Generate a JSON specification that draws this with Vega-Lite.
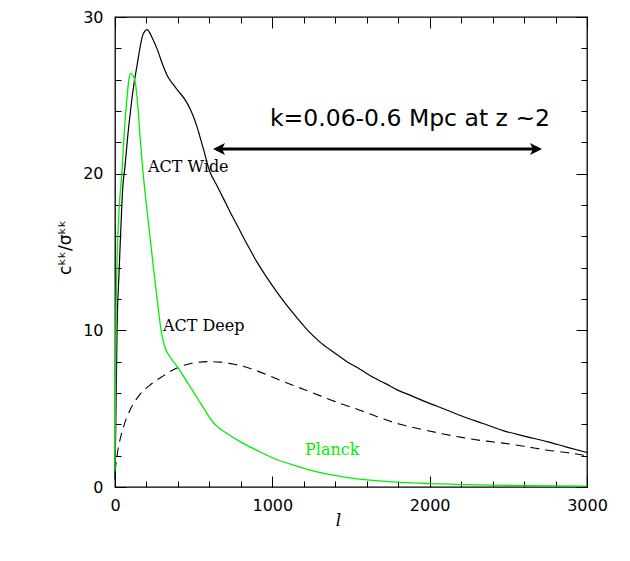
{
  "$schema": "https://vega.github.io/schema/vega-lite/v6.json",
  "width": 472,
  "height": 470,
  "autosize": "none",
  "padding": {"left": 115, "top": 17, "right": 43, "bottom": 74},
  "background": "white",
  "config": {
    "view": {"stroke": "black", "strokeWidth": 1.3},
    "axis": {
      "labelFont": "DejaVu Sans",
      "labelFontSize": 16,
      "labelColor": "black",
      "tickColor": "black",
      "tickWidth": 1,
      "grid": false,
      "domain": false,
      "labelFlush": false,
      "labelOverlap": false,
      "titleColor": "black",
      "titleFontWeight": "normal"
    }
  },
  "datasets": {
    "wide": [
      {"l": 0, "v": 0.5}, {"l": 5, "v": 4}, {"l": 13, "v": 10}, {"l": 25, "v": 13.5}, {"l": 35, "v": 16},
      {"l": 50, "v": 19.2}, {"l": 64, "v": 20.5}, {"l": 80, "v": 22.3}, {"l": 95, "v": 23.7}, {"l": 120, "v": 25.7},
      {"l": 140, "v": 26.9}, {"l": 160, "v": 28.1}, {"l": 175, "v": 28.8}, {"l": 190, "v": 29.1}, {"l": 205, "v": 29.2},
      {"l": 220, "v": 29.0}, {"l": 240, "v": 28.6}, {"l": 270, "v": 27.9}, {"l": 305, "v": 26.9}, {"l": 335, "v": 26.2},
      {"l": 370, "v": 25.7}, {"l": 400, "v": 25.3}, {"l": 450, "v": 24.65}, {"l": 477, "v": 24.15}, {"l": 500, "v": 23.6},
      {"l": 521, "v": 23.0}, {"l": 540, "v": 22.35}, {"l": 560, "v": 21.65}, {"l": 600, "v": 20.2}, {"l": 650, "v": 19.2},
      {"l": 700, "v": 18.2}, {"l": 750, "v": 17.2}, {"l": 800, "v": 16.25}, {"l": 850, "v": 15.3}, {"l": 900, "v": 14.4},
      {"l": 950, "v": 13.6}, {"l": 1000, "v": 12.85}, {"l": 1080, "v": 11.75}, {"l": 1157, "v": 10.8}, {"l": 1230, "v": 9.95},
      {"l": 1303, "v": 9.25}, {"l": 1390, "v": 8.6}, {"l": 1475, "v": 8.0}, {"l": 1560, "v": 7.5}, {"l": 1640, "v": 7.0},
      {"l": 1720, "v": 6.6}, {"l": 1793, "v": 6.2}, {"l": 1890, "v": 5.8}, {"l": 1983, "v": 5.4}, {"l": 2100, "v": 4.95},
      {"l": 2212, "v": 4.5}, {"l": 2340, "v": 4.05}, {"l": 2467, "v": 3.6}, {"l": 2600, "v": 3.25}, {"l": 2746, "v": 2.9},
      {"l": 2870, "v": 2.55}, {"l": 3000, "v": 2.2}
    ],
    "deep": [
      {"l": 0, "v": 1.0}, {"l": 10, "v": 1.8}, {"l": 25, "v": 2.7}, {"l": 50, "v": 3.7}, {"l": 95, "v": 4.9},
      {"l": 150, "v": 5.8}, {"l": 222, "v": 6.5}, {"l": 300, "v": 7.05}, {"l": 394, "v": 7.6}, {"l": 490, "v": 7.9},
      {"l": 585, "v": 8.0}, {"l": 670, "v": 7.97}, {"l": 750, "v": 7.85}, {"l": 880, "v": 7.5}, {"l": 1004, "v": 7.0},
      {"l": 1130, "v": 6.5}, {"l": 1259, "v": 6.0}, {"l": 1400, "v": 5.45}, {"l": 1557, "v": 4.9}, {"l": 1690, "v": 4.4},
      {"l": 1812, "v": 4.0}, {"l": 1939, "v": 3.7}, {"l": 2080, "v": 3.4}, {"l": 2212, "v": 3.15}, {"l": 2340, "v": 2.95},
      {"l": 2467, "v": 2.8}, {"l": 2600, "v": 2.6}, {"l": 2750, "v": 2.35}, {"l": 2870, "v": 2.2}, {"l": 3000, "v": 2.0}
    ],
    "planck": [
      {"l": 0, "v": 1.0}, {"l": 3, "v": 6}, {"l": 6, "v": 10.5}, {"l": 12, "v": 14}, {"l": 25, "v": 17.5},
      {"l": 44, "v": 20.1}, {"l": 60, "v": 22.8}, {"l": 76, "v": 24.8}, {"l": 88, "v": 26}, {"l": 100, "v": 26.4},
      {"l": 112, "v": 26.3}, {"l": 127, "v": 25.9}, {"l": 137, "v": 25.2}, {"l": 146, "v": 24.2}, {"l": 158, "v": 22.5},
      {"l": 170, "v": 21}, {"l": 178, "v": 20.1}, {"l": 200, "v": 18}, {"l": 222, "v": 16}, {"l": 250, "v": 13.5},
      {"l": 270, "v": 11.8}, {"l": 286, "v": 10.5}, {"l": 300, "v": 9.6}, {"l": 318, "v": 8.9}, {"l": 350, "v": 8.3},
      {"l": 394, "v": 7.7}, {"l": 440, "v": 7.0}, {"l": 477, "v": 6.4}, {"l": 510, "v": 5.9}, {"l": 540, "v": 5.4},
      {"l": 575, "v": 4.85}, {"l": 600, "v": 4.45}, {"l": 625, "v": 4.1}, {"l": 655, "v": 3.82}, {"l": 700, "v": 3.5},
      {"l": 795, "v": 2.9}, {"l": 900, "v": 2.35}, {"l": 1004, "v": 1.85}, {"l": 1150, "v": 1.35}, {"l": 1284, "v": 0.96},
      {"l": 1450, "v": 0.65}, {"l": 1602, "v": 0.45}, {"l": 1812, "v": 0.3}, {"l": 2000, "v": 0.22}, {"l": 2300, "v": 0.14},
      {"l": 2600, "v": 0.09}, {"l": 3000, "v": 0.05}
    ],
    "labels": [
      {"l": 210, "v": 20.4, "text": "ACT Wide", "c": "black"},
      {"l": 305, "v": 10.3, "text": "ACT Deep", "c": "black"},
      {"l": 1208, "v": 2.36, "text": "Planck", "c": "green"}
    ],
    "note": [{"l": 985, "v": 23.04, "text": "k=0.06-0.6 Mpc at z ~2"}],
    "arrowline": [{"l": 645, "l2": 2692, "v": 21.57}],
    "heads": [{"l": 623, "v": 21.57, "dir": "left"}, {"l": 2714, "v": 21.57, "dir": "right"}]
  },
  "resolve": {"axis": {"x": "independent", "y": "independent"}},
  "layer": [
    {
      "data": {"name": "wide"},
      "mark": {"type": "line", "color": "black", "strokeWidth": 1.2, "interpolate": "monotone"},
      "encoding": {
        "x": {
          "field": "l", "type": "quantitative",
          "scale": {"domain": [0, 3000], "nice": false, "zero": false},
          "axis": {
            "orient": "bottom",
            "values": [0, 200, 400, 600, 800, 1000, 1200, 1400, 1600, 1800, 2000, 2200, 2400, 2600, 2800, 3000],
            "format": "d",
            "labelExpr": "datum.value % 1000 === 0 ? datum.label : ''",
            "tickSize": {"condition": {"test": "datum.value % 1000 === 0", "value": -11}, "value": -6},
            "labelPadding": 21,
            "title": "l",
            "titleFont": "DejaVu Serif",
            "titleFontStyle": "italic",
            "titleFontSize": 17,
            "titleX": 223,
            "titleY": 33,
            "titleBaseline": "middle"
          }
        },
        "y": {
          "field": "v", "type": "quantitative",
          "scale": {"domain": [0, 30], "nice": false, "zero": false},
          "axis": {
            "orient": "left",
            "values": [0, 2, 4, 6, 8, 10, 12, 14, 16, 18, 20, 22, 24, 26, 28, 30],
            "format": "d",
            "labelExpr": "datum.value % 10 === 0 ? datum.label : ''",
            "tickSize": {"condition": {"test": "datum.value % 10 === 0", "value": -11}, "value": -6},
            "labelPadding": 23,
            "title": "cᵏᵏ/σᵏᵏ",
            "titleFont": "DejaVu Sans",
            "titleFontSize": 17,
            "titleAngle": -90,
            "titleX": -50,
            "titleY": 230,
            "titleAlign": "center",
            "titleBaseline": "middle"
          }
        }
      }
    },
    {
      "data": {"name": "deep"},
      "mark": {"type": "line", "color": "black", "strokeWidth": 1.1, "strokeDash": [9, 6], "interpolate": "monotone"},
      "encoding": {
        "x": {
          "field": "l", "type": "quantitative",
          "scale": {"domain": [0, 3000], "nice": false, "zero": false},
          "axis": {
            "orient": "top",
            "values": [0, 200, 400, 600, 800, 1000, 1200, 1400, 1600, 1800, 2000, 2200, 2400, 2600, 2800, 3000],
            "labels": false,
            "title": null,
            "tickSize": {"condition": {"test": "datum.value % 1000 === 0", "value": -11}, "value": -6}
          }
        },
        "y": {
          "field": "v", "type": "quantitative",
          "scale": {"domain": [0, 30], "nice": false, "zero": false},
          "axis": {
            "orient": "right",
            "values": [0, 2, 4, 6, 8, 10, 12, 14, 16, 18, 20, 22, 24, 26, 28, 30],
            "labels": false,
            "title": null,
            "tickSize": {"condition": {"test": "datum.value % 10 === 0", "value": -11}, "value": -6}
          }
        }
      }
    },
    {
      "data": {"name": "planck"},
      "mark": {"type": "line", "color": "#00ee00", "strokeWidth": 1.3, "interpolate": "monotone"},
      "encoding": {
        "x": {"field": "l", "type": "quantitative", "scale": {"domain": [0, 3000], "nice": false, "zero": false}, "axis": null},
        "y": {"field": "v", "type": "quantitative", "scale": {"domain": [0, 30], "nice": false, "zero": false}, "axis": null}
      }
    },
    {
      "data": {"name": "labels"},
      "mark": {"type": "text", "align": "left", "baseline": "middle", "font": "DejaVu Serif", "fontSize": 16},
      "encoding": {
        "x": {"field": "l", "type": "quantitative", "scale": {"domain": [0, 3000], "nice": false, "zero": false}, "axis": null},
        "y": {"field": "v", "type": "quantitative", "scale": {"domain": [0, 30], "nice": false, "zero": false}, "axis": null},
        "text": {"field": "text"},
        "color": {"field": "c", "type": "nominal", "scale": {"domain": ["black", "green"], "range": ["black", "#00ee00"]}, "legend": null}
      }
    },
    {
      "data": {"name": "note"},
      "mark": {"type": "text", "align": "left", "baseline": "alphabetic", "font": "DejaVu Sans", "fontSize": 23.5, "color": "black"},
      "encoding": {
        "x": {"field": "l", "type": "quantitative", "scale": {"domain": [0, 3000], "nice": false, "zero": false}, "axis": null},
        "y": {"field": "v", "type": "quantitative", "scale": {"domain": [0, 30], "nice": false, "zero": false}, "axis": null},
        "text": {"field": "text"}
      }
    },
    {
      "data": {"name": "arrowline"},
      "mark": {"type": "rule", "color": "black", "strokeWidth": 3},
      "encoding": {
        "x": {"field": "l", "type": "quantitative", "scale": {"domain": [0, 3000], "nice": false, "zero": false}, "axis": null},
        "x2": {"field": "l2"},
        "y": {"field": "v", "type": "quantitative", "scale": {"domain": [0, 30], "nice": false, "zero": false}, "axis": null}
      }
    },
    {
      "data": {"name": "heads"},
      "mark": {"type": "point", "filled": true, "color": "black", "opacity": 1, "size": 144, "strokeWidth": 0},
      "encoding": {
        "x": {"field": "l", "type": "quantitative", "scale": {"domain": [0, 3000], "nice": false, "zero": false}, "axis": null},
        "y": {"field": "v", "type": "quantitative", "scale": {"domain": [0, 30], "nice": false, "zero": false}, "axis": null},
        "shape": {"field": "dir", "type": "nominal", "scale": {"domain": ["left", "right"], "range": ["M0,0L2,-1L1.5,0L2,1Z", "M0,0L-2,-1L-1.5,0L-2,1Z"]}, "legend": null}
      }
    }
  ]
}
